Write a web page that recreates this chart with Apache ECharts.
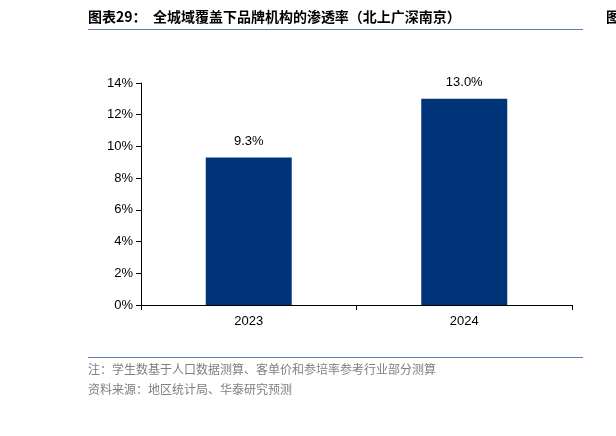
<!DOCTYPE html>
<html><head><meta charset="utf-8">
<script src="https://cdn.jsdelivr.net/npm/echarts@6/dist/echarts.min.js"></script>
<style>body{margin:0;background:#fff}#c{width:616px;height:436px}</style>
</head><body><div id="c"></div>
<script>
const categories = ['2023', '2024'];
const values = [9.3, 13.0];
const chart = echarts.init(document.getElementById('c'));
const cjk = '"Noto Sans CJK SC", sans-serif';
chart.setOption({
  animation: false,
  graphic: [
    {type:'text', left:88, top:10, style:{text:'图表29：  全城域覆盖下品牌机构的渗透率（北上广深南京）', font:'bold 14px ' + cjk, fill:'#000'}},
    {type:'rect', shape:{x:88, y:29, width:495, height:1}, style:{fill:'#5b7fb5'}},
    {type:'text', left:606, top:10, style:{text:'图', font:'bold 14px ' + cjk, fill:'#000'}},
    {type:'rect', shape:{x:88, y:357, width:495, height:1}, style:{fill:'#5b7fb5'}},
    {type:'text', left:88, top:363, style:{text:'注：学生数基于人口数据测算、客单价和参培率参考行业部分测算', font:'12px ' + cjk, fill:'#808080'}},
    {type:'text', left:88, top:383, style:{text:'资料来源：地区统计局、华泰研究预测', font:'12px ' + cjk, fill:'#808080'}}
  ],
  grid: {left:141, right:44, top:83, bottom:131},
  xAxis: {type:'category', data:categories,
    axisLine:{lineStyle:{color:'#000'}}, axisTick:{show:true, lineStyle:{color:'#000'}},
    axisLabel:{color:'#000', fontSize:13, fontFamily:'Liberation Sans, Arial', margin:10}},
  yAxis: {type:'value', min:0, max:14, interval:2,
    axisLine:{show:true, lineStyle:{color:'#000'}}, axisTick:{show:true, lineStyle:{color:'#000'}},
    splitLine:{show:false},
    axisLabel:{color:'#000', fontSize:13, fontFamily:'Liberation Sans, Arial', formatter:'{value}%'}},
  series: [{type:'bar', data:values, barWidth:86, itemStyle:{color:'#003478'},
    label:{show:true, position:'top', distance:10, color:'#000', fontSize:13, fontFamily:'Liberation Sans, Arial',
      formatter:p=>p.value.toFixed(1)+'%'}}]
});
</script></body></html>
